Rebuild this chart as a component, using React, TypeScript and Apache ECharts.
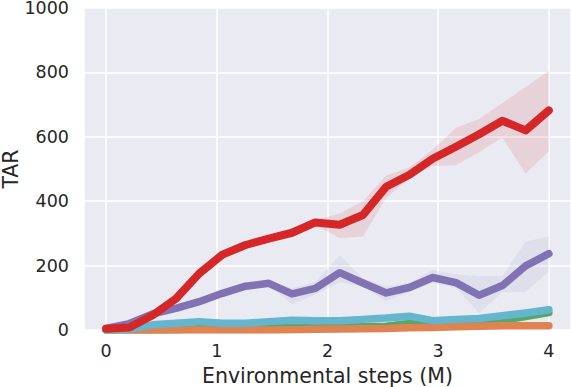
import React, { useEffect, useRef } from "react";
import * as echarts from "echarts";

const steps = [0, 0.21, 0.42, 0.63, 0.84, 1.05, 1.26, 1.47, 1.68, 1.89, 2.11, 2.32, 2.53, 2.74, 2.95, 3.16, 3.37, 3.58, 3.79, 4.0];

const redMean = [4, 8, 46, 97, 175, 234, 264, 284, 302, 334, 327, 357, 445, 482, 532, 569, 608, 650, 620, 682];
const redLower = [1, 4, 40, 88, 166, 226, 256, 276, 296, 326, 285, 290, 410, 472, 510, 512, 552, 598, 485, 556];
const redUpper = [7, 12, 52, 106, 184, 242, 272, 292, 310, 342, 362, 400, 480, 505, 560, 628, 655, 705, 755, 804];

const purpleMean = [5, 20, 50, 67, 88, 114, 136, 145, 112, 129, 178, 146, 115, 132, 163, 147, 108, 138, 199, 237];
const purpleLower = [2, 16, 45, 62, 82, 108, 130, 138, 80, 110, 148, 135, 90, 118, 146, 132, 52, 118, 118, 182];
const purpleUpper = [8, 24, 55, 72, 94, 120, 142, 152, 130, 148, 232, 160, 135, 146, 186, 172, 168, 168, 274, 290];

const cyanMean = [0, 3, 16, 21, 26, 21, 21, 26, 30, 29, 29, 33, 37, 43, 29, 33, 36, 44, 53, 63];
const greenMean = [0, 0, 0, 1, 4, 5, 5, 8, 10, 10, 9, 10, 12, 20, 15, 17, 19, 30, 42, 54];
const orangeMean = [0, 0, 0, 0, 0, 0, 0, 0, 1, 2, 3, 4, 5, 7, 8, 10, 12, 13, 13, 13];

const yTicks = [0, 200, 400, 600, 800, 1000];

const FONT = "DejaVu Sans";
const TEXT = "#262626";

function pairs(vals: number[]) {
  return steps.map((x, i) => [x, vals[i]]);
}

function band(name: string, lower: number[], upper: number[], color: string) {
  const data = steps.map((x, i) => [x, lower[i], upper[i]]);
  return {
    name: name + "-band",
    type: "custom",
    data,
    encode: { x: 0, y: [1, 2] },
    silent: true,
    renderItem: (params: any, api: any) => {
      if (params.dataIndex !== 0) return null;
      const top = data.map((d) => api.coord([d[0], d[2]]));
      const bottom = data.map((d) => api.coord([d[0], d[1]])).reverse();
      return {
        type: "polygon",
        shape: { points: top.concat(bottom) },
        style: { fill: color, stroke: "none" },
      };
    },
  };
}

function meanLine(name: string, vals: number[], color: string, width: number) {
  return {
    name,
    type: "line",
    data: pairs(vals),
    symbol: "none",
    lineStyle: { color, width, cap: "round", join: "round" },
    silent: true,
  };
}

export default function App() {
  const ref = useRef<HTMLDivElement>(null);
  useEffect(() => {
    if (!ref.current) return;
    const chart = echarts.init(ref.current, null, { renderer: "svg" });
    chart.setOption({
      animation: false,
      grid: {
        left: 84,
        right: 0,
        top: 8,
        bottom: 57,
        show: true,
        backgroundColor: "#EAEAF2",
        borderWidth: 0,
        containLabel: false,
        outerBoundsMode: "none",
      },
      xAxis: {
        type: "value",
        min: -0.2,
        max: 4.2,
        splitNumber: 5,
        name: "Environmental steps (M)",
        nameLocation: "middle",
        nameMoveOverlap: false,
        nameGap: 35,
        nameTextStyle: { fontFamily: FONT, fontSize: 20.5, color: TEXT },
        axisLine: { show: false },
        axisTick: { show: false },
        axisLabel: {
          fontFamily: FONT,
          fontSize: 17.5,
          color: TEXT,
          margin: 12,
          showMinLabel: false,
          showMaxLabel: false,
        },
        splitLine: { show: true, lineStyle: { color: "#ffffff", width: 1.5 } },
      },
      yAxis: {
        type: "value",
        min: yTicks[0],
        max: yTicks[yTicks.length - 1],
        interval: 200,
        name: "TAR",
        nameLocation: "middle",
        nameMoveOverlap: false,
        nameGap: 64,
        nameTextStyle: { fontFamily: FONT, fontSize: 20.5, color: TEXT, lineHeight: 18 },
        axisLine: { show: false },
        axisTick: { show: false },
        axisLabel: {
          fontFamily: FONT,
          fontSize: 17.5,
          lineHeight: 15,
          color: TEXT,
          margin: 15,
          formatter: (v: number) => String(v),
        },
        splitLine: { show: true, lineStyle: { color: "#ffffff", width: 1.5 } },
      },
      series: [
        band("red", redLower, redUpper, "rgba(214,39,40,0.12)"),
        band("purple", purpleLower, purpleUpper, "rgba(129,114,179,0.10)"),
        meanLine("green", greenMean, "#55A868", 7.5),
        meanLine("orange", orangeMean, "#DD8452", 7.5),
        meanLine("cyan", cyanMean, "#64B5CD", 7.5),
        meanLine("purple", purpleMean, "#8172B3", 7.5),
        meanLine("red", redMean, "#D62728", 8),
      ],
    });
    return () => chart.dispose();
  }, []);
  return (
    <div
      ref={ref}
      style={{ position: "absolute", left: 0, top: 0, width: 571, height: 387 }}
    />
  );
}
